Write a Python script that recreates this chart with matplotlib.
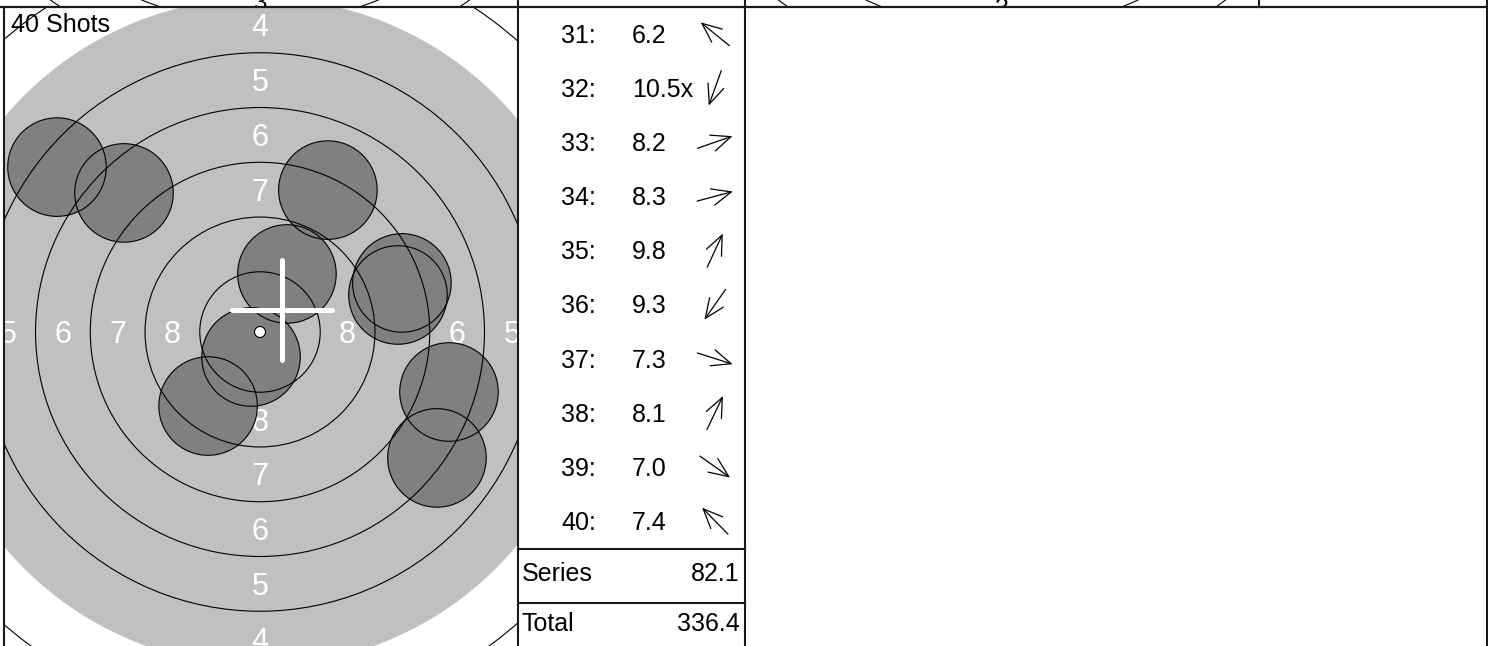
import numpy as np
import matplotlib.pyplot as plt
from matplotlib.patches import Circle, FancyArrowPatch

plt.rcParams['font.family'] = ['Liberation Sans', 'DejaVu Sans']

# series 4 of the card: shots 31-40, offsets from the centre in mm (x right, y up)
shot_numbers = [31, 32, 33, 34, 35, 36, 37, 38, 39, 40]
shot_x = [-9.27, -0.41, 6.48, 6.30, 1.23, -2.37, 8.63, 3.10, 8.08, -6.21]
shot_y = [7.53, -1.14, 2.24, 1.69, 2.65, -3.38, -2.74, 6.48, -5.75, 6.35]
shot_scores = ["6.2", "10.5x", "8.2", "8.3", "9.8", "9.3", "7.3", "8.1", "7.0", "7.4"]
series_label, series_score = "Series", "82.1"
total_label, total_score = "Total", "336.4"
shots_title = "40 Shots"
group_x, group_y = 1.0, 1.0   # white cross, group centre in mm

ring_labels = [1, 2, 3, 4, 5, 6, 7, 8]

W, H = 1488, 646
TEN_R = 0.25      # mm
RING_W = 2.5      # mm
PELLET_R = 2.25   # 4.5 mm pellet
BLACK_FROM = 4    # aiming mark covers rings 4..10
LINE = '#1a1a1a'


def ring_radius(n):
    return TEN_R + (10 - n) * RING_W


def add_px_axes(fig, x0, y0, x1, y1, **kw):
    return fig.add_axes([x0 / W, 1 - y1 / H, (x1 - x0) / W, (y1 - y0) / H], **kw)


def draw_target(ax, box, centre, scale, font, xs=(), ys=(), cross=None):
    x0, y0, x1, y1 = box
    cx, cy = centre
    xmin, xmax = (x0 - cx) / scale, (x1 - cx) / scale
    ymin, ymax = (cy - y1) / scale, (cy - y0) / scale
    ax.set_xlim(xmin, xmax)
    ax.set_ylim(ymin, ymax)
    ax.set_axis_off()
    ax.add_patch(Circle((0, 0), ring_radius(BLACK_FROM), fc='#c0c0c0', ec='none', zorder=1))

    # ring numbers, baseline shifted so the digits sit centred in the band;
    # numbers that fall wholly outside the panel are left out
    font_mm = font / 0.72 / scale
    half_cap = 0.716 * font_mm / 2
    for n in ring_labels:
        rc = ring_radius(n) - RING_W / 2
        col = 'white' if n >= BLACK_FROM else 'black'
        for lx, ly in [(0, rc), (0, -rc), (-rc, 0), (rc, 0)]:
            if not (xmin - font_mm / 2 < lx < xmax + font_mm / 2 and
                    ymin - font_mm / 2 < ly < ymax + font_mm / 2):
                continue
            ax.text(lx, ly - half_cap, str(n), color=col, fontsize=font,
                    ha='center', va='baseline', clip_on=True, zorder=2)

    for x, y in zip(xs, ys):
        ax.add_patch(Circle((x, y), PELLET_R, fc='#808080', ec='none', zorder=3))
    for n in range(1, 10):
        if n == BLACK_FROM:
            continue
        ax.add_patch(Circle((0, 0), ring_radius(n), fc='none', ec='black', lw=0.8, zorder=4))
    for x, y in zip(xs, ys):
        ax.add_patch(Circle((x, y), PELLET_R, fc='none', ec='black', lw=0.8, zorder=5))
    ax.add_patch(Circle((0, 0), TEN_R, fc='white', ec='black', lw=0.8, zorder=6))

    if cross is not None:
        gx, gy = cross
        arm = 2.28
        ax.plot([gx - arm, gx + arm], [gy, gy], color='white', lw=3.6, solid_capstyle='round', zorder=7)
        ax.plot([gx, gx], [gy - arm, gy + arm], color='white', lw=3.6, solid_capstyle='round', zorder=7)


fig = plt.figure(figsize=(W / 100, H / 100), dpi=100)

# previous row, only its bottom edge shows above the top rule
upper_left = add_px_axes(fig, 4, -20, 518, 7)
draw_target(upper_left, (4, -20, 518, 7), (260, -292), 17.75, 17.5)
upper_right = add_px_axes(fig, 745, -20, 1259, 7)
draw_target(upper_right, (745, -20, 1259, 7), (1002, -293), 18.2, 18.0)

# this series
target = add_px_axes(fig, 4, 8, 518, 646)
draw_target(target, (4, 8, 518, 646), (260, 332), 21.9, 22.0,
            shot_x, shot_y, cross=(group_x, group_y))

# frame, table and texts in pixel coordinates
ov = add_px_axes(fig, 0, 0, W, H, zorder=10)
ov.set_xlim(0, W)
ov.set_ylim(H, 0)
ov.set_axis_off()

ov.plot([0, W], [7, 7], color=LINE, lw=1.6)
for x, ya, yb in [(3.5, 7, H), (518, 0, H), (745, 0, H), (1259, 0, 7), (1487, 0, H)]:
    ov.plot([x, x], [ya, yb], color=LINE, lw=1.5)
for y in (549, 603):
    ov.plot([518, 745], [y, y], color=LINE, lw=1.5)

ov.text(11, 32, shots_title, fontsize=18, ha='left', va='baseline')

row0, row_h, arrow_x, arrow_len = 34, 54.1, 715, 37
for i, (num, score, x, y) in enumerate(zip(shot_numbers, shot_scores, shot_x, shot_y)):
    yc = row0 + i * row_h
    ov.text(561, yc + 8.9, f"{num}:", fontsize=18, ha='left', va='baseline')
    ov.text(632, yc + 8.9, score, fontsize=18, ha='left', va='baseline')
    a = np.arctan2(y, x)
    dx, dy = arrow_len / 2 * np.cos(a), arrow_len / 2 * np.sin(a)
    ov.add_patch(FancyArrowPatch((arrow_x - dx, yc + dy), (arrow_x + dx, yc - dy),
                                 arrowstyle='->,head_length=1.4,head_width=0.6',
                                 mutation_scale=10, lw=0.9, color='black',
                                 shrinkA=0, shrinkB=0))

ov.text(522, 581, series_label, fontsize=18, ha='left', va='baseline')
ov.text(739, 581, series_score, fontsize=18, ha='right', va='baseline')
ov.text(522, 631, total_label, fontsize=18, ha='left', va='baseline')
ov.text(740, 631, total_score, fontsize=18, ha='right', va='baseline')

fig.savefig('out.png', dpi=100)
